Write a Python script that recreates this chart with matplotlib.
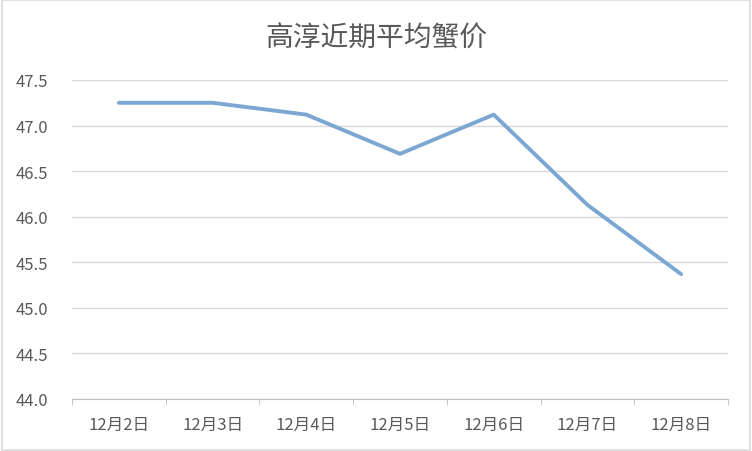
import matplotlib
matplotlib.use("Agg")
import matplotlib.pyplot as plt
from matplotlib.patches import Rectangle

plt.rcParams['font.family'] = ['Noto Sans CJK SC', 'DejaVu Sans']

# data
dates = ["12月2日", "12月3日", "12月4日", "12月5日", "12月6日", "12月7日", "12月8日"]
prices = [47.25, 47.25, 47.12, 46.69, 47.12, 46.13, 45.37]
y_ticks = [44.0, 44.5, 45.0, 45.5, 46.0, 46.5, 47.0, 47.5]

fig = plt.figure(figsize=(7.52, 4.52), dpi=100)
ax = fig.add_axes([72 / 752, 52 / 452, 656 / 752, 319 / 452])

x = list(range(len(dates)))
ax.plot(x, prices, color="#7ba7d2", linewidth=2.8, solid_capstyle="round", solid_joinstyle="round")

ax.set_xlim(-0.5, len(dates) - 0.5)
ax.set_ylim(44.0, 47.5)
ax.set_yticks(y_ticks)
ax.set_yticklabels([f"{v:.1f}" for v in y_ticks])
ax.yaxis.grid(True, color="#d9d9d9", linewidth=1)
ax.set_axisbelow(True)

# category labels centred, ticks at category boundaries
ax.set_xticks(x)
ax.set_xticklabels(dates)
ax.set_xticks([i - 0.5 for i in range(len(dates) + 1)], minor=True)
ax.tick_params(axis="x", which="major", length=0, pad=12, labelsize=12, colors="#595959")
ax.tick_params(axis="x", which="minor", length=4, color="#bfbfbf")
ax.tick_params(axis="y", length=0, pad=17, labelsize=12, colors="#595959")

for s in ["top", "right", "left"]:
    ax.spines[s].set_visible(False)
ax.spines["bottom"].set_color("#bfbfbf")

fig.text(0.5, 0.915, "高淳近期平均蟹价", ha="center", va="center", fontsize=20, color="#595959")

# outer border
fig.patches.append(Rectangle((0.002, 0.002), 0.996, 0.996, transform=fig.transFigure,
                             fill=False, edgecolor="#d9d9d9", linewidth=1.2))

fig.savefig("out.png", dpi=100)
